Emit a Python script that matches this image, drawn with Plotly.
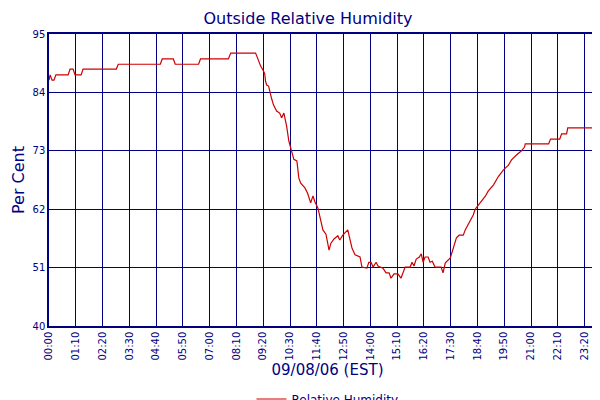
import plotly.graph_objects as go
import pandas as pd

# minutes after midnight 09/08/06, relative humidity (%)
minutes = [0, 3, 8, 13, 18, 50, 55, 63, 68, 84, 89, 176, 181, 291, 296, 325, 330, 391, 396, 469, 475, 540,
           545, 553, 561, 564, 566, 569, 574, 577, 582, 587, 595, 603, 608, 614, 616, 621, 627, 632, 635, 640,
           648, 650, 653, 658, 669, 676, 684, 690, 695, 703, 708, 716, 724, 732, 737, 745, 755, 760, 768, 776,
           781, 787, 792, 800, 813, 818, 831, 836, 842, 847, 855, 860, 873, 881, 889, 894, 902, 912, 920, 931,
           944, 949, 954, 960, 968, 973, 978, 983, 991, 996, 1002, 1009, 1025, 1030, 1036, 1049, 1057, 1065,
           1072, 1083, 1088, 1101, 1109, 1114, 1127, 1141, 1148, 1162, 1175, 1188, 1201, 1209, 1222, 1235,
           1243, 1245, 1306, 1311, 1335, 1340, 1353, 1356, 1432, 1434, 1453, 1455]
humidity = [86.3, 87.3, 86.3, 86.3, 87.3, 87.3, 88.4, 88.4, 87.3, 87.3, 88.4, 88.4, 89.3, 89.3, 90.3, 90.3,
            89.3, 89.3, 90.3, 90.3, 91.4, 91.4,
            90.5, 89.0, 88.0, 87.5, 86.1, 85.4, 85.2, 84.1, 82.8, 81.6, 80.5, 80.1, 79.2, 80.1, 79.5, 77.7,
            74.8, 73.5, 72.2, 71.4, 71.1, 69.8, 67.9, 66.9, 66.0, 65.0, 63.2, 64.5, 63.4, 62.2, 60.7, 58.1,
            57.3, 54.3, 55.6, 56.4, 57.0, 56.2, 57.1, 57.7, 58.1, 56.2, 54.7, 53.4, 53.0, 51.1, 50.9, 52.0,
            52.0, 51.1, 52.0, 51.3, 50.9, 50.0, 50.0, 49.0, 49.8, 49.8, 49.0, 51.1, 51.1, 52.0, 51.3, 52.6,
            53.0, 53.6, 52.0, 53.0, 53.0, 52.0, 52.2, 51.1, 51.1, 50.0, 51.9, 52.8, 54.7, 56.6, 57.1, 57.1,
            58.1, 59.8, 60.9, 62.0, 63.2, 64.5, 65.4, 66.6, 68.2, 69.4, 70.3, 71.3, 72.2, 73.0, 73.7, 74.3,
            74.3, 75.2, 75.2, 76.2, 76.2, 77.3, 77.3, 78.2, 78.2, 78.8]
tick_labels = ["00:00", "01:10", "02:20", "03:30", "04:40", "05:50", "07:00", "08:10", "09:20", "10:30",
               "11:40", "12:50", "14:00", "15:10", "16:20", "17:30", "18:40", "19:50", "21:00", "22:10",
               "23:20", "00:15"]
tick_minutes = [70 * i for i in range(21)] + [1455]
y_ticks = [40, 51, 62, 73, 84, 95]

base = pd.Timestamp("2006-09-08 00:00")
times = [base + pd.Timedelta(minutes=m) for m in minutes]
tick_times = [base + pd.Timedelta(minutes=m) for m in tick_minutes]

navy = "#000080"
fig = go.Figure()
fig.add_trace(go.Scatter(x=times, y=humidity, mode="lines", name="Relative Humidity",
                         line=dict(color="#cc0000", width=1.2)))

fig.update_layout(
    width=600, height=400,
    margin=dict(l=41, r=2, t=26, b=82, autoexpand=False),
    paper_bgcolor="white", plot_bgcolor="white",
    font=dict(family="DejaVu Sans", color=navy, size=10),
    title=dict(text="Outside Relative Humidity", x=0.5, xanchor="center", y=0.975, yanchor="middle",
               font=dict(size=16, color=navy)),
    showlegend=True,
    legend=dict(orientation="h", x=0.5, xanchor="center", y=-0.25, yanchor="middle",
                font=dict(size=12, color=navy)),
)
fig.update_xaxes(range=[tick_times[0], base + pd.Timedelta(minutes=1456)], tickvals=tick_times,
                 ticktext=tick_labels, automargin=False,
                 tickangle=-90, showgrid=True, gridcolor=navy, gridwidth=1,
                 showline=True, linecolor=navy, mirror=True, linewidth=1.5,
                 title=dict(text="09/08/06 (EST)", font=dict(size=15, color=navy), standoff=4),
                 tickfont=dict(size=10, color=navy))
fig.update_yaxes(range=[40, 95], tickvals=y_ticks, showgrid=True, gridcolor=navy, gridwidth=1,
                 showline=True, linecolor=navy, mirror=True, linewidth=1.5, zeroline=False,
                 automargin=False,
                 title=dict(text="Per Cent", font=dict(size=16, color=navy), standoff=4),
                 tickfont=dict(size=10, color=navy))

fig.write_html("out.html")
